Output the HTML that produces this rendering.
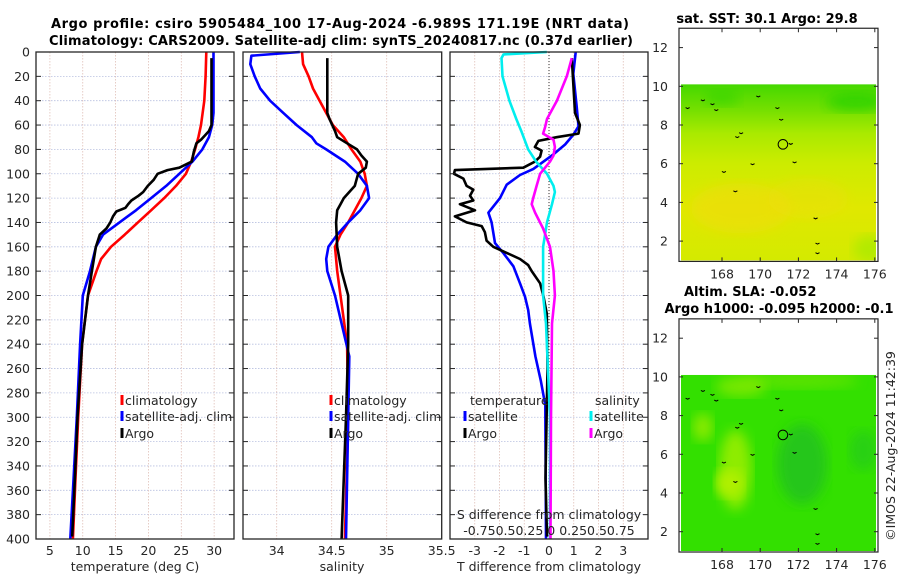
<!DOCTYPE html>
<html><head><meta charset="utf-8">
<style>
html,body{margin:0;padding:0;background:#fff;}
svg{display:block;font-family:"DejaVu Sans","Liberation Sans",sans-serif;}
</style></head>
<body>
<svg id="fig" width="900" height="580" viewBox="0 0 900 580" xmlns="http://www.w3.org/2000/svg">
<defs>
<linearGradient id="sstGrad" x1="0" y1="0" x2="0" y2="1">
<stop offset="0" stop-color="#44d800"/>
<stop offset="0.15" stop-color="#77e000"/>
<stop offset="0.28" stop-color="#aaea00"/>
<stop offset="0.45" stop-color="#ccec00"/>
<stop offset="0.7" stop-color="#e0e800"/>
<stop offset="1" stop-color="#d4ea00"/>
</linearGradient>
<filter id="blur6"><feGaussianBlur stdDeviation="6"/></filter>
<clipPath id="clip1"><rect x="681" y="84" width="195" height="176"/></clipPath>
<clipPath id="clip2"><rect x="681" y="375" width="195" height="176"/></clipPath>
</defs>
<g id="layer"></g>
</svg>
<script>
// ---------- DATA ----------
const depthTicks = [0,20,40,60,80,100,120,140,160,180,200,220,240,260,280,300,320,340,360,380,400];
const tempTicks = [5,10,15,20,25,30];
const salTicks = [34,34.5,35,35.5];
const salTickLabels = ["34","34.5","35","35.5"];
const tdiffTicks = [-3,-2,-1,0,1,2,3];

// temperature profiles
const tClimDepth = [0,20,40,60,70,80,90,100,110,120,130,140,150,160,170,180,200,240,300,350,400];
const tClimVal   = [28.8,28.7,28.5,28.0,27.6,27.1,26.5,25.7,24.2,22.4,20.4,18.4,16.4,14.3,12.8,12.1,10.8,9.9,9.3,8.9,8.5];
const tSatDepth = [0,50,60,70,80,90,100,110,120,130,140,150,160,180,200,240,300,350,400];
const tSatVal   = [29.9,29.9,29.7,29.2,28.2,26.7,24.7,22.7,20.4,18.1,15.6,13.1,12.0,11.1,10.0,9.6,9.1,8.6,8.1];
const tArgoDepth = [5,60,65,72,75,82,90,95,97,100,105,110,115,118,122,125,128,131,135,140,145,150,160,180,200,240,300,350,398];
const tArgoVal   = [29.6,29.6,29.2,28.0,27.3,26.9,26.6,24.7,22.9,21.4,20.8,19.9,19.2,18.5,17.4,16.9,16.5,15.1,14.6,14.2,13.6,12.6,12.0,11.4,10.8,9.9,9.2,8.8,8.4];

// salinity profiles
const sClimDepth = [0,10,20,30,40,50,60,70,80,90,100,110,120,130,140,150,160,180,200,240,300,400];
const sClimVal   = [34.23,34.24,34.29,34.33,34.39,34.45,34.51,34.61,34.68,34.76,34.80,34.82,34.77,34.71,34.65,34.58,34.53,34.55,34.58,34.64,34.65,34.62];
const sSatDepth = [0,3,10,20,30,40,50,60,70,75,80,90,100,110,120,130,140,150,160,170,180,200,250,300,400];
const sSatVal   = [34.21,33.77,33.76,33.80,33.85,33.94,34.06,34.18,34.32,34.36,34.45,34.62,34.74,34.82,34.84,34.76,34.65,34.55,34.47,34.45,34.46,34.53,34.66,34.65,34.63];
const sArgoDepth = [5,50,55,65,70,75,80,85,90,95,100,110,120,125,130,140,160,180,200,240,300,400];
const sArgoVal   = [34.46,34.46,34.48,34.53,34.55,34.64,34.73,34.77,34.82,34.81,34.74,34.71,34.61,34.58,34.55,34.54,34.55,34.59,34.65,34.65,34.63,34.59];

// T differences
const dTSatDepth = [0,18,45,61,68,76,84,96,101,109,120,132,140,157,165,176,190,201,212,223,250,270,290,400];
const dTSatVal   = [1.08,0.98,1.12,1.19,0.98,0.65,0.18,-0.63,-1.17,-1.71,-1.98,-2.45,-2.32,-2.18,-1.85,-1.44,-1.17,-0.97,-0.84,-0.77,-0.55,-0.33,-0.15,-0.12];
const dTArgoDepth = [5,50,60,67,70,73,78,81,86,90,95,97,100,104,110,113,118,122,125,130,135,140,143,148,155,160,165,170,175,180,190,200,215,260,350,398];
const dTArgoVal   = [0.92,1.05,1.25,1.19,0.31,-0.43,-0.57,-0.30,-0.36,-0.57,-1.04,-3.80,-3.84,-3.46,-3.33,-3.06,-3.19,-3.06,-3.60,-2.99,-3.80,-3.33,-2.72,-2.59,-2.52,-2.25,-1.71,-1.17,-0.84,-0.70,-0.36,-0.23,-0.09,-0.06,-0.14,-0.08];
// S differences (salinity units, S-axis = T-axis/4)
const dSSatDepth = [0,2,5,20,40,55,65,80,90,100,110,115,125,140,160,200,223,300,400];
const dSSatVal   = [-0.022,-0.46,-0.48,-0.47,-0.40,-0.33,-0.28,-0.21,-0.13,-0.02,0.045,0.06,0.03,-0.02,-0.06,-0.06,-0.03,0.01,0.01];
const dSArgoDepth = [5,20,40,55,62,67,72,78,85,90,100,110,120,125,132,145,160,180,200,223,300,400];
const dSArgoVal   = [0.23,0.18,0.08,-0.02,-0.04,-0.06,0.045,0.06,0.045,0.01,-0.09,-0.125,-0.16,-0.175,-0.14,-0.06,0.01,0.045,0.06,0.03,0.02,0.015];

const lonTicks = [168,170,172,174,176];
const latTicks = [2,4,6,8,10,12];

// ---------- HELPERS ----------
const NS = "http://www.w3.org/2000/svg";
const root = document.getElementById('layer');
function mk(tag, attrs, parent) {
  const e = document.createElementNS(NS, tag);
  for (const k in attrs) e.setAttribute(k, attrs[k]);
  (parent || root).appendChild(e);
  return e;
}
const Y0 = 52, Y400 = 539;
function yD(d) { return Y0 + d * (Y400 - Y0) / 400; }
function xT(t) { return 49.9 + (t - 5) * 6.57; }
function xS(s) { return 276.7 + (s - 34) * 110; }
function xDT(t) { return 549 + t * 24.75; }
function xDS(s) { return xDT(s * 4); }

const panels = [
  {l:36, r:234, name:'temperature-panel'},
  {l:243, r:441.7, name:'salinity-panel'},
  {l:450, r:648, name:'difference-panel'}
];

// grids
panels.forEach((p, i) => {
  const g = mk('g', {});
  
  
  depthTicks.forEach(d => {
    if (d === 0 || d === 400) return;
    const l = mk('line', {x1:p.l, x2:p.r, y1:yD(d), y2:yD(d), stroke:'#b8c0e0', 'stroke-width':0.8, 'stroke-dasharray':'1.5,1.5'}, g);
    
    
  });
  let xs = [];
  if (i === 0) xs = tempTicks.map(xT);
  if (i === 1) xs = salTicks.slice(0, 3).map(xS);
  if (i === 2) xs = tdiffTicks.map(xDT);
  xs.forEach(x => {
    const l = mk('line', {x1:x, x2:x, y1:Y0, y2:Y400, stroke:'#e0c0b8', 'stroke-width':0.8, 'stroke-dasharray':'1.5,1.5'}, g);
    
    
  });
});
// zero dotted line
const zl = mk('line', {x1:xDT(0), x2:xDT(0), y1:Y0, y2:Y400, stroke:'#333', 'stroke-width':1, 'stroke-dasharray':'1,2'});



// lines
function drawLine(ds, vs, fx, color, name, w) {
  const pts = ds.map((d, i) => fx(vs[i]).toFixed(1) + ',' + yD(d).toFixed(1)).join(' ');
  const pl = mk('polyline', {points:pts, fill:'none', stroke:color, 'stroke-width':w || 2.6, 'stroke-linejoin':'round'});
  
  
}
drawLine(tClimDepth, tClimVal, xT, '#ff0000', 'temperature-climatology-line');
drawLine(tSatDepth, tSatVal, xT, '#0000ff', 'temperature-satellite-line');
drawLine(tArgoDepth, tArgoVal, xT, '#000000', 'temperature-argo-line');
drawLine(sClimDepth, sClimVal, xS, '#ff0000', 'salinity-climatology-line');
drawLine(sSatDepth, sSatVal, xS, '#0000ff', 'salinity-satellite-line');
drawLine(sArgoDepth, sArgoVal, xS, '#000000', 'salinity-argo-line');
drawLine(dTSatDepth, dTSatVal, xDT, '#0000ff', 'tdiff-satellite-line');
drawLine(dTArgoDepth, dTArgoVal, xDT, '#000000', 'tdiff-argo-line');
drawLine(dSSatDepth, dSSatVal, xDS, '#00eeee', 'sdiff-satellite-line');
drawLine(dSArgoDepth, dSArgoVal, xDS, '#ff00ff', 'sdiff-argo-line');

// frames, ticks
function txt(x, y, s, opts, name) {
  const t = mk('text', Object.assign({x:x, y:y, 'font-size':12.5, fill:'#262626'}, opts || {}));
  t.textContent = s;
  
  
  return t;
}
panels.forEach((p, i) => {
  const f = mk('rect', {x:p.l, y:Y0, width:p.r - p.l, height:Y400 - Y0, fill:'none', stroke:'#262626', 'stroke-width':1.3});
  
  
  depthTicks.forEach(d => {
    mk('line', {x1:p.l, x2:p.l + 5, y1:yD(d), y2:yD(d), stroke:'#262626', 'stroke-width':1});
    mk('line', {x1:p.r - 5, x2:p.r, y1:yD(d), y2:yD(d), stroke:'#262626', 'stroke-width':1});
  });
});
depthTicks.forEach(d => txt(30, yD(d) + 4.5, String(d), {'text-anchor':'end'}, 'depth-tick-label'));
tempTicks.forEach(t => txt(xT(t), 555, String(t), {'text-anchor':'middle'}, 'temperature-tick-label'));
salTicks.forEach((s, i) => txt(xS(s), 555, salTickLabels[i], {'text-anchor':'middle'}, 'salinity-tick-label'));
tdiffTicks.forEach(t => txt(xDT(t), 555, String(t), {'text-anchor':'middle'}, 'tdiff-tick-label'));
txt(135, 571, 'temperature (deg C)', {'text-anchor':'middle'}, 'temperature-axis-title');
txt(342, 571, 'salinity', {'text-anchor':'middle'}, 'salinity-axis-title');
txt(549, 571, 'T difference from climatology', {'text-anchor':'middle'}, 'tdiff-axis-title');
txt(549, 519, 'S difference from climatology', {'text-anchor':'middle'}, 'sdiff-axis-title');
txt(549, 535, '-0.750.50.25 0  0.250.50.75', {'text-anchor':'middle'}, 'sdiff-tick-labels');

// titles
txt(340, 28, 'Argo profile: csiro 5905484_100 17-Aug-2024 -6.989S 171.19E (NRT data)', {'text-anchor':'middle', 'font-weight':'bold', 'font-size':13, fill:'#000', textLength:578}, 'main-title-line1');
txt(341, 45, 'Climatology: CARS2009. Satellite-adj clim: synTS_20240817.nc (0.37d earlier)', {'text-anchor':'middle', 'font-weight':'bold', 'font-size':13, fill:'#000', textLength:584}, 'main-title-line2');

// legends
function legend(mx, y, color, label, name) {
  const m = mk('rect', {x:mx - 1.5, y:y - 10, width:3, height:10, fill:color});
  
  
  txt(mx + 3, y, label, {}, name + '-label');
}
legend(122, 405, '#ff0000', 'climatology', 'legend-climatology');
legend(122, 421, '#0000ff', 'satellite-adj. clim', 'legend-satellite');
legend(122, 438, '#000000', 'Argo', 'legend-argo');
legend(331, 405, '#ff0000', 'climatology', 'legend-sal-climatology');
legend(331, 421, '#0000ff', 'satellite-adj. clim', 'legend-sal-satellite');
legend(331, 438, '#000000', 'Argo', 'legend-sal-argo');
txt(470, 405, 'temperature', {}, 'legend-temperature-heading');
txt(595, 405, 'salinity', {}, 'legend-salinity-heading');
legend(465, 421, '#0000ff', 'satellite', 'legend-tdiff-satellite');
legend(465, 438, '#000000', 'Argo', 'legend-tdiff-argo');
legend(591, 421, '#00eeee', 'satellite', 'legend-sdiff-satellite');
legend(591, 438, '#ff00ff', 'Argo', 'legend-sdiff-argo');

// ---------- MAPS ----------
function lonX(l) { return 722 + (l - 168) * 19.1; }
function drawMap(off, which) {
  const latY = l => 86.3 + (10 - l) * 19.35 + off;
  const g = mk('g', {});
  
  
  const top = latY(10.1), bot = latY(1.0);
  if (which === 'sst') {
    mk('rect', {x:681, y:top, width:195, height:bot - top, fill:'url(#sstGrad)'}, g);
    const c = mk('g', {'clip-path':'url(#clip1)'}, g);
    mk('ellipse', {cx:lonX(175), cy:latY(9.2), rx:30, ry:10, fill:'#22d000', opacity:0.7, filter:'url(#blur6)'}, c);
    mk('ellipse', {cx:lonX(168), cy:latY(9.4), rx:18, ry:8, fill:'#33d400', opacity:0.6, filter:'url(#blur6)'}, c);
    mk('ellipse', {cx:lonX(169), cy:latY(3.7), rx:50, ry:25, fill:'#f0dc10', opacity:0.6, filter:'url(#blur6)'}, c);
    mk('ellipse', {cx:lonX(172.5), cy:latY(4.2), rx:40, ry:20, fill:'#eedc10', opacity:0.4, filter:'url(#blur6)'}, c);
    mk('ellipse', {cx:lonX(175.8), cy:latY(1.6), rx:18, ry:14, fill:'#aaea00', opacity:0.8, filter:'url(#blur6)'}, c);
  } else {
    mk('rect', {x:681, y:top, width:195, height:bot - top, fill:'#33e000'}, g);
    const c = mk('g', {'clip-path':'url(#clip2)'}, g);
    mk('ellipse', {cx:lonX(168.7), cy:latY(5.2), rx:16, ry:40, fill:'#99ee00', opacity:0.9, filter:'url(#blur6)'}, c);
    mk('ellipse', {cx:lonX(168.4), cy:latY(4.5), rx:14, ry:14, fill:'#b0f000', filter:'url(#blur6)'}, c);
    mk('ellipse', {cx:lonX(167), cy:latY(7.4), rx:10, ry:14, fill:'#88ea00', filter:'url(#blur6)'}, c);
    mk('ellipse', {cx:lonX(172.2), cy:latY(5.5), rx:25, ry:40, fill:'#22c020', opacity:0.8, filter:'url(#blur6)'}, c);
    mk('ellipse', {cx:lonX(175.4), cy:latY(6.2), rx:14, ry:20, fill:'#22c624', opacity:0.6, filter:'url(#blur6)'}, c);
    mk('ellipse', {cx:lonX(172), cy:latY(9.8), rx:60, ry:8, fill:'#66e400', opacity:0.8, filter:'url(#blur6)'}, c);
    mk('ellipse', {cx:lonX(169), cy:latY(9.5), rx:25, ry:10, fill:'#88ea00', opacity:0.8, filter:'url(#blur6)'}, c);
  }
  // islands (small black marks)
  const isl = [[167,9.3],[167.5,9.1],[167.7,8.8],[168.8,7.4],[169,7.6],[169.6,6],[168.7,4.6],[171.6,7.05],[171.8,6.1],[172.9,3.2],[173,1.9],[173,1.4],[171.1,8.3],[170.9,8.9],[169.9,9.5],[166.2,8.9],[168.1,5.6]];
  isl.forEach(p => {
    const s = mk('path', {d:`M${lonX(p[0]) - 2},${latY(p[1])} l2,1 l2,-1`, stroke:'#000', 'stroke-width':1, fill:'none'}, g);
    
    
  });
  const circ = mk('circle', {cx:lonX(171.19), cy:latY(7.0), r:4.8, fill:'none', stroke:'#000', 'stroke-width':1}, g);
  
  
  const fr = mk('rect', {x:679, y:latY(13), width:199, height:latY(0.95) - latY(13), fill:'none', stroke:'#262626', 'stroke-width':1.2}, g);
  
  
  latTicks.forEach(l => {
    mk('line', {x1:679, x2:683, y1:latY(l), y2:latY(l), stroke:'#262626'}, g);
    mk('line', {x1:874, x2:878, y1:latY(l), y2:latY(l), stroke:'#262626'}, g);
    txt(668, latY(l) + 4.5, String(l), {'text-anchor':'end'}, 'latitude-tick-label');
  });
  lonTicks.forEach(l => {
    mk('line', {x1:lonX(l), x2:lonX(l), y1:latY(0.95), y2:latY(0.95) - 4, stroke:'#262626'}, g);
    mk('line', {x1:lonX(l), x2:lonX(l), y1:latY(13), y2:latY(13) + 4, stroke:'#262626'}, g);
    txt(lonX(l), latY(0.95) + 17, String(l), {'text-anchor':'middle'}, 'longitude-tick-label');
  });
}
drawMap(0, 'sst');
drawMap(290.6, 'sla');
txt(767, 23, 'sat. SST: 30.1 Argo: 29.8', {'text-anchor':'middle', 'font-weight':'bold', 'font-size':13, fill:'#000'}, 'sst-map-title');
txt(784, 296, 'Altim. SLA: -0.052', {'text-anchor':'start', 'font-weight':'bold', 'font-size':13, fill:'#000', x:684}, 'sla-map-title-line1');
txt(779, 313, 'Argo h1000: -0.095 h2000: -0.1', {'text-anchor':'middle', 'font-weight':'bold', 'font-size':13, fill:'#000'}, 'sla-map-title-line2');
txt(0, 0, '©IMOS 22-Aug-2024 11:42:39', {'text-anchor':'middle', transform:'translate(895,446) rotate(-90)', 'font-size':12.5}, 'imos-timestamp');
</script>
</body></html>
